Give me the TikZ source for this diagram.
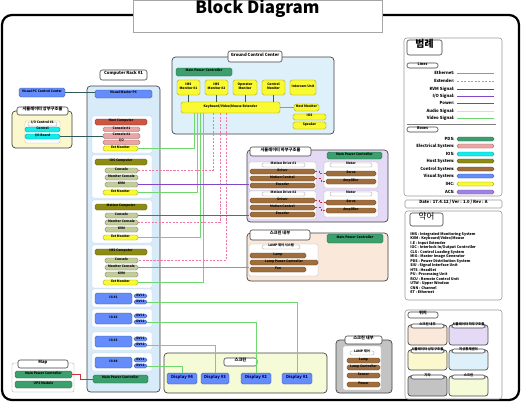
\documentclass[tikz,border=0pt]{standalone}
\usepackage{fontspec}
\setmainfont{Noto Sans CJK KR}
\usetikzlibrary{fit,positioning}

% 선 색
\definecolor{ethc}{RGB}{150,150,150}
\definecolor{extc}{RGB}{240,120,160}
\definecolor{kvmc}{RGB}{50,90,90}
\definecolor{ioc}{RGB}{130,70,200}
\definecolor{powc}{RGB}{200,50,60}
\definecolor{audc}{RGB}{245,225,110}
\definecolor{vidc}{RGB}{110,215,110}
% 박스 색
\definecolor{pdsc}{RGB}{60,160,110}
\definecolor{elec}{RGB}{235,165,165}
\definecolor{iosc}{RGB}{20,235,235}
\definecolor{hostc}{RGB}{140,140,20}
\definecolor{ctrlc}{RGB}{160,110,60}
\definecolor{visc}{RGB}{100,140,250}
\definecolor{ihcc}{RGB}{250,250,50}
\definecolor{acsc}{RGB}{160,130,230}
\definecolor{hostred}{RGB}{205,85,65}
\definecolor{consc}{RGB}{195,205,155}
% 영역 색
\definecolor{gccfill}{RGB}{222,240,250}
\definecolor{rackfill}{RGB}{215,235,248}
\definecolor{lsfill}{RGB}{228,218,245}
\definecolor{sifill}{RGB}{250,232,218}
\definecolor{scrfill}{RGB}{245,250,215}
\definecolor{upfill}{RGB}{252,248,205}
\definecolor{grayfill}{RGB}{195,195,195}

\tikzset{
  tx/.style={font=\fontsize{2.3}{2.6}\selectfont\bfseries, inner sep=0pt, align=center},
  bar/.style={tx, draw=#1!60!black, fill=#1, rounded corners=1.2pt, line width=0.25pt},
  area/.style={draw=black!75, fill=#1, rounded corners=2.5pt, line width=0.5pt, inner sep=0pt},
  tag/.style={draw=black!75, fill=white, rounded corners=1.5pt, line width=0.4pt, inner sep=0pt, font=\fontsize{3}{3.5}\selectfont\bfseries},
  grp/.style={draw=#1, fill=white, rounded corners=1pt, line width=0.3pt, inner sep=0pt},
  hdr/.style={tx, draw=black!40, fill=white, rounded corners=1pt, line width=0.25pt},
  ethln/.style={draw=ethc, line width=0.4pt},
  extln/.style={draw=extc, line width=0.4pt, dash pattern=on 1.5pt off 1pt},
  kvmln/.style={draw=kvmc, line width=0.4pt},
  ioln/.style={draw=ioc, line width=0.4pt},
  powln/.style={draw=powc, line width=0.4pt},
  audln/.style={draw=audc, line width=0.5pt},
  vidln/.style={draw=vidc, line width=0.5pt}
}

\begin{document}
\begin{tikzpicture}[x=0.025cm, y=-0.025cm]
\useasboundingbox (0,0) rectangle (522,404);

% 외곽선과 제목
\draw[line width=1.6pt, rounded corners=7pt] (2,15) rectangle (519,400);
\node[draw=black!35, fill=white, inner sep=0pt, fit={(133,0)(382,32)}, font=\fontsize{12}{14}\selectfont\bfseries] (title) {Block Diagram};

% Ground Control Center
\node[area=gccfill, fit={(172,57)(334,134)}] (gcc) {};
\node[tag, fit={(228,51)(282,62)}] (gcctag) {Ground Control Center};
\node[bar=pdsc, fit={(176,68)(232,76)}] (gccmpc) {Main Power Controller};
\node[bar=ihcc, fit={(177,80)(200,95)}] (mon1) {IMS\\Monitor \#1};
\node[bar=ihcc, fit={(205,80)(228,95)}] (mon2) {IMS\\Monitor \#2};
\node[bar=ihcc, fit={(233,80)(257,95)}] (mon3) {Operator\\Monitor};
\node[bar=ihcc, fit={(262,80)(285,95)}] (mon4) {Control\\Monitor};
\node[bar=ihcc, fit={(290,80)(316,95)}] (mon5) {Intercom Unit};
\node[bar=ihcc, fit={(181,102)(280,113)}] (kvm) {Keyboard/Video/Mouse Extender};
\node[bar=ihcc, fit={(294,104)(319,111)}] (hmon) {Host Monitor};
\node[bar=ihcc, fit={(293,114)(326,120)}] (iosu) {IOS};
\node[bar=ihcc, fit={(293,122)(326,129)}] (spk) {Speaker};

% 상부구조물
\node[bar=visc, fit={(19,88)(65,97)}] (vispc) {Visual PC Control Center};
\node[area=upfill, fit={(12,111)(72,148)}] (up) {};
\node[tag, fit={(17,107)(68,115)}] (uptag) {시뮬레이터 상부구조물};
\node[grp=black!30, fit={(25,121)(60,143)}] (upg) {};
\node[hdr, fit={(28,122)(57,126)}] (uph) {I/O Control \#1};
\node[bar=iosc, fit={(25,127)(60,132)}] (io1) {Control};
\node[bar=iosc, fit={(25,134)(60,139)}] (io2) {I/O Board};

% Computer Rack
\node[area=rackfill, fit={(87,86)(160,392)}] (rack) {};
\node[tag, fit={(100,70)(147,80)}] (racktag) {Computer Rack \#1};
\node[bar=visc, fit={(95,90)(152,98)}] (vmpc) {Visual Master PC};
\node[grp=visc!40, fit={(92,116)(152,153)}] (g1) {};
\node[bar=hostred, fit={(95,119)(147,125)}] (h1) {Host Computer};
\node[bar=elec, fit={(103,127)(140,131.5)}] (hA1) {Console \#1};
\node[bar=elec, fit={(103,133.5)(140,138.5)}] (hB1) {Console \#2};
\node[bar=elec, fit={(103,140)(140,144.5)}] (hC1) {I/O};
\node[bar=ihcc, fit={(103,146)(138,151)}] (ext1) {Ext Monitor};
\foreach \g/\y/\t in {2/159/IOS Computer,3/204/Motion Computer,4/249/IMS Computer} {
  \node[grp=visc!40, fit={(92,\y-4)(152,\y+39)}] (g\g) {};
  \node[bar=hostc, fit={(95,\y)(147,\y+6)}] (h\g) {\t};
  \node[bar=consc, fit={(105,\y+9)(138,\y+14)}] (hA\g) {Console};
  \node[bar=consc, fit={(105,\y+16)(138,\y+21)}] (hB\g) {Monitor Console};
  \node[bar=consc, fit={(105,\y+23)(138,\y+28)}] (hC\g) {KVM};
  \node[bar=ihcc, fit={(103,\y+31)(138,\y+36)}] (ext\g) {Ext Monitor};
}
\foreach \i/\y in {1/293,2/313,3/336,4/357} {
  \node[grp=visc!40, fit={(92,\y-4)(152,\y+14)}] (igf\i) {};
  \node[bar=visc, fit={(95,\y)(132,\y+11)}] (ig\i) {IG \#\i};
  \node[bar=visc, fit={(134,\y+1)(147,\y+5)}] (igA\i) {DVI 1};
  \node[bar=visc, fit={(134,\y+7)(147,\y+11)}] (igB\i) {DVI 2};
}
\node[bar=pdsc, fit={(93,375)(148,383)}] (rackmpc) {Main Power Controller};

% Map
\node[grp=black!40, fit={(12,363)(74,392)}] (map) {};
\node[tag, fit={(18,360)(68,368)}] (maptag) {Map};
\node[bar=pdsc, fit={(15,371)(72,378)}] (mapA) {Main Power Controller};
\node[bar=pdsc, fit={(15,381)(72,388)}] (mapB) {UPS Module};

% 하부구조물
\node[area=lsfill, fit={(247,150)(388,222)}] (ls) {};
\node[tag, fit={(250,147)(311,156)}] (lstag) {시뮬레이터 하부구조물};
\node[bar=pdsc, fit={(327,152)(382,159)}] (lsmpc) {Main Power Controller};
\foreach \i/\y in {1/162,2/191} {
  \node[grp=black!30, fit={(249,\y)(316,\y+28)}] (lg\i) {};
  \node[hdr, fit={(262,\y+1)(305,\y+5)}] (lh\i) {Motion Drive \#\i};
  \node[bar=ctrlc, fit={(250,\y+7)(315,\y+12)}] (lA\i) {Driver};
  \node[bar=ctrlc, fit={(250,\y+14)(315,\y+19)}] (lB\i) {Motion Control};
  \node[bar=ctrlc, fit={(250,\y+21)(315,\y+26)}] (lC\i) {Encoder};
  \node[grp=black!30, fit={(324,\y)(378,\y+26)}] (rg\i) {};
  \node[hdr, fit={(330,\y+1)(372,\y+5)}] (rh\i) {Motor};
  \node[bar=ctrlc, fit={(326,\y+9)(376,\y+14)}] (rA\i) {Servo};
  \node[bar=ctrlc, fit={(326,\y+17)(376,\y+22)}] (rB\i) {Amplifier};
  \draw[extln, draw=powc] (lA\i.east) -- ++(4,0) |- (rA\i.west);
  \draw[extln, draw=powc] (lB\i.east) -- ++(6,0) |- (rB\i.west);
}

% 스크린 내부
\node[area=sifill, fit={(247,233)(388,281)}] (si) {};
\node[tag, fit={(250,230)(310,240)}] (sitag) {스크린 내부};
\node[bar=pdsc, fit={(327,234)(383,243)}] (simpc) {Main Power Controller};
\node[grp=black!30, fit={(249,244)(318,276)}] (sig) {};
\node[hdr, fit={(262,245)(300,249)}] (sih) {LAMP 제어 시스템};
\node[bar=ctrlc, fit={(250,253)(306,258)}] (siA) {Lamp};
\node[bar=ctrlc, fit={(250,260)(318,265)}] (siB) {Lamp Power Controller};
\node[bar=ctrlc, fit={(250,267)(306,272)}] (siC) {Fan};

% 스크린
\node[area=scrfill, fit={(164,353)(327,393)}] (scr) {};
\node[tag, fit={(224,358)(257,366)}] (scrtag) {스크린};
\foreach \i/\xa/\xb in {4/167/197,3/201/229,2/241/271,1/282/312}
  \node[bar=visc, fit={(\xa,373)(\xb,384)}, font=\fontsize{3}{3.5}\selectfont\bfseries, text=blue!40!black] (disp\i) {Display \#\i};

% 작은 스크린 내부
\node[area=grayfill, fit={(336,340)(392,393)}] (ss) {};
\node[tag, fit={(345,336)(382,344)}] (sstag) {스크린 내부};
\node[grp=black!30, fit={(343,346)(381,390)}] (ssg) {};
\node[hdr, fit={(350,351)(374,355)}] (ssh) {LAMP 제어};
\foreach \j/\y/\t in {1/358/Lamp,2/365/Lamp Controller,3/373/Sensor,4/382/Power}
  \node[bar=ctrlc, fit={(347,\y)(380,\y+5)}] (ss\j) {\t};

% 연결선
\draw[kvmln] (vispc.east) -- (vispc.east -| vmpc.west);
\draw[kvmln] (io2.east) -- (io2.east -| hB1.west);
\foreach \m in {1,2,3,4}
  \draw[kvmln] (mon\m.south) -- (mon\m.south |- kvm.north);
\draw[ethln] (kvm.east) -- (kvm.east -| hmon.west);
\foreach \k/\x in {1/194,2/197,3/200,4/203} {
  \coordinate (v\k) at (\x,113);
  \draw[vidln] (v\k) |- (ext\k.east);
}
\coordinate (e1) at (213,113);
\coordinate (e2) at (220,113);
\coordinate (e3) at (226,113);
\draw[extln] (e1) |- (hA2.east);
\draw[extln] (e2) |- (hB3.east);
\draw[extln] (e3) |- (hA4.east);
\draw[ioln] (hC2.east) -- (hC2.east -| lg1.west);
\draw[ioln] (hA3.east) -- (hA3.east -| lg2.west);
\draw[ethln] (hB4.east) -- (hB4.east -| sig.west);
\foreach \i in {1,2,3,4}
  \draw[vidln] (igB\i.east) -| (disp\i.north);
\draw[powln] (mapA.east) -- ++(8,0) |- (rackmpc.west);

% 범례
\node[draw=black!40, fill=white, rounded corners=2pt, inner sep=0pt, fit={(404,38)(502,196)}] (legend) {};
\node[tag, fit={(407,40)(442,55)}, font=\fontsize{7}{8}\selectfont\bfseries] (lgtitle) {범례};
\node[tag, fit={(407,63)(438,68)}, font=\fontsize{2.6}{3}\selectfont\bfseries] (lntag) {Lines};
\foreach \y/\t/\s in {73/Ethernet/ethln,81/Extender/extln,89/KVM Signal/kvmln,96/{I/O Signal}/ioln,103/Power/powln,111/Audio Signal/audln,118/Video Signal/vidln} {
  \node[tx, anchor=east, font=\fontsize{3}{3.5}\selectfont\bfseries] (ln\y) at (455,\y) {\t :};
  \coordinate (lnend\y) at (494,\y);
  \draw[\s, line width=0.5pt] (ln\y.east) ++(2,0) -- (lnend\y);
}
\draw[black!50, line width=0.3pt] (407,124) -- (496,124);
\node[tag, fit={(407,127)(438,132)}, font=\fontsize{2.6}{3}\selectfont\bfseries] (bxtag) {Boxes};
\foreach \y/\t/\c in {139/PDS/pdsc,146/Electrical System/elec,154/IOS/iosc,161/Host System/hostc,169/Control System/ctrlc,176/Visual System/visc,184/IHC/ihcc,192/ACS/acsc} {
  \node[tx, anchor=east, font=\fontsize{3}{3.5}\selectfont\bfseries] (bl\y) at (455,\y) {\t :};
  \node[bar=\c, fit={(457,\y-2)(494,\y+2)}] (bx\y) {};
}
\node[draw=black!40, fill=white, rounded corners=1pt, inner sep=0pt, fit={(405,200)(502,208)}, font=\fontsize{3}{3.5}\selectfont\bfseries] (date) {Date : 17.4.12 / Ver : 1.0 / Rev : A};

% 약어
\node[draw=black!40, fill=white, rounded corners=2pt, inner sep=0pt, fit={(405,211)(502,300)}] (abbr) {};
\node[tag, fit={(410,213)(443,226)}, font=\fontsize{6}{7}\selectfont] (abtag) {약어};
\node[anchor=north west, align=left, inner sep=0pt, font=\fontsize{2.6}{3.2}\selectfont\bfseries] (abtext) at (410,232) {%
IMS : Integrated Monitoring System\\
KVM : Keyboard/Video/Mouse\\
I.E : Input Extender\\
IOC : Interlock In/Output Controller\\
CLS : Control Loading System\\
MIG : Master Image Generator\\
PDS : Power Distribution System\\
SIU : Signal Interface Unit\\
HTS : HeadSet\\
PU : Processing Unit\\
RCU : Remote Control Unit\\
UTW : Upper Window\\
CNN : Channel\\
ET : Ethernet};

% 위치
\node[draw=black!40, fill=white, rounded corners=2pt, inner sep=0pt, fit={(405,310)(502,399)}] (loc) {};
\node[tag, fit={(408,312)(438,318)}] (loctag) {위치};
\foreach \n/\x/\y/\c/\t in {1/408/325/sifill/스크린 내부,2/449/325/lsfill/시뮬레이터 하부구조물,3/408/350/upfill/시뮬레이터 상부구조물,4/449/350/gccfill/지상통제센터,5/408/376/grayfill/기타,6/449/376/scrfill/스크린} {
  \node[draw=black!70, fill=\c, rounded corners=2pt, line width=0.5pt, inner sep=0pt, fit={(\x,\y)(\x+39,\y+20)}] (locbox\n) {};
  \node[tag, font=\fontsize{2.4}{2.8}\selectfont\bfseries, fit={(\x+3,\y-1)(\x+36,\y+3)}] (loclbl\n) {\t};
}

\end{tikzpicture}
\end{document}
